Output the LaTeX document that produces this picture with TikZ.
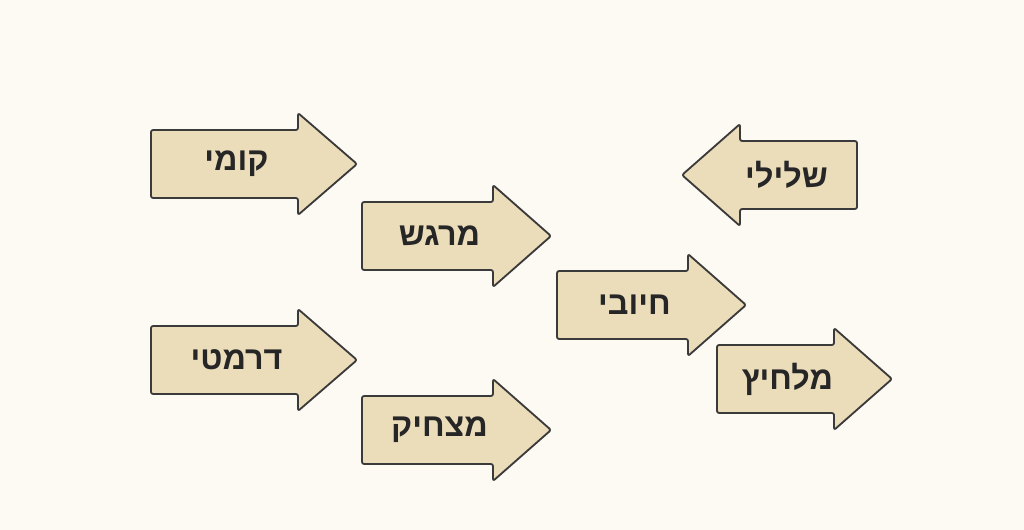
\documentclass[tikz,border=0pt]{standalone}
\usepackage{fontspec}
\newfontfamily\hebfont[Script=Hebrew]{Liberation Sans}
\TeXXeTstate=1
\definecolor{paper}{HTML}{FDFAF3}
\definecolor{tan}{HTML}{EBDDBA}
\definecolor{edge}{HTML}{3A3A3A}
\tikzset{
  arrowbox/.style={fill=tan,draw=edge,line width=1.3pt,rounded corners=1.5pt,line join=round},
  label/.style={font=\hebfont\bfseries\fontsize{23}{27}\selectfont,text=black!85}
}
% right arrow: body left, head base, tip, mid y, name, text
\newcommand{\rarrow}[6]{%
  \draw[arrowbox] (#1,#4-34) -- (#2,#4-34) -- (#2,#4-51) -- (#3,#4) -- (#2,#4+51)
    -- (#2,#4+34) -- (#1,#4+34) -- cycle;
  \node[label] (#5) at ({(#1+#2)/2+12},#4) {\beginR #6\endR};}
% left arrow: tip, head base, body right, mid y, name, text
\newcommand{\larrow}[6]{%
  \draw[arrowbox] (#3,#4-34) -- (#2,#4-34) -- (#2,#4-51) -- (#1,#4) -- (#2,#4+51)
    -- (#2,#4+34) -- (#3,#4+34) -- cycle;
  \node[label] (#5) at ({(#2+#3)/2-12},#4) {\beginR #6\endR};}
\begin{document}
\begin{tikzpicture}[x=0.025cm,y=-0.025cm]
  \fill[paper] (0,0) rectangle (1024,530);
  \useasboundingbox (0,0) rectangle (1024,530);

  % left column
  \rarrow{151}{298}{357}{164}{komi}{קומי}
  \rarrow{151}{298}{357}{360}{drama}{דרמטי}

  % middle column
  \rarrow{362}{493}{551}{236}{meragesh}{מרגש}
  \rarrow{362}{493}{551}{430}{matzhik}{מצחיק}
  \rarrow{557}{688}{746}{305}{hiyuvi}{חיובי}

  % right column
  \larrow{682}{740}{857}{175}{shlili}{שלילי}
  \rarrow{717}{834}{892}{379}{malhitz}{מלחיץ}
\end{tikzpicture}
\end{document}
